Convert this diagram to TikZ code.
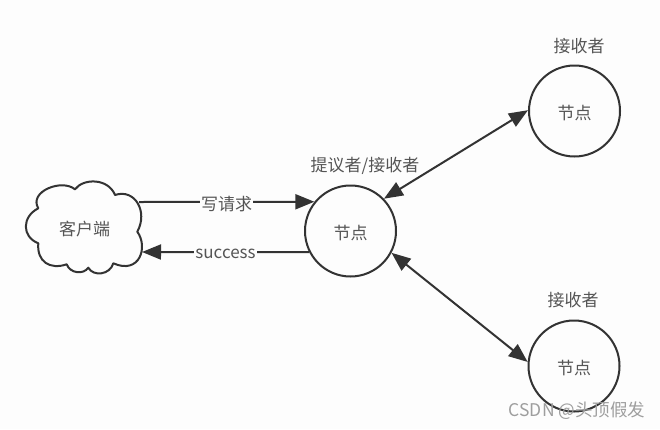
\documentclass[tikz,border=0pt]{standalone}
\usepackage{fontspec}
\setmainfont{Noto Sans CJK SC}
\usetikzlibrary{arrows.meta}
\definecolor{inkdark}{HTML}{333333}
\definecolor{labelgray}{HTML}{555555}
\definecolor{paper}{HTML}{FDFDFD}
\tikzset{
  nodecircle/.style={circle, draw=inkdark, line width=2pt, minimum size=91pt, inner sep=0pt, text height=16pt, text depth=0pt, font=\fontsize{17}{19}\selectfont, text=labelgray},
  clienttext/.style={font=\fontsize{17}{19}\selectfont, text=labelgray, inner sep=0pt},
  rolelabel/.style={font=\fontsize{17}{19}\selectfont, text=labelgray, inner sep=0pt},
  edgelabel/.style={fill=paper, font=\fontsize{17}{19}\selectfont, text=labelgray, inner sep=1pt, yshift=-2pt},
  link/.style={draw=inkdark, line width=2pt}
}
\begin{document}
\begin{tikzpicture}[x=1pt, y=-1pt, >={Triangle[length=19pt,width=15pt]}]

    % --- Page ---
    \fill[paper] (0,0) rectangle (660,429);

    % --- The client cloud ---
    \draw[link, line join=round] (75,189.3)
      .. controls (83.3,178) and (108.3,178) .. (115,195)
      .. controls (135,188.3) and (148.3,211.7) .. (137.3,231.7)
      .. controls (148.3,246.7) and (140,275) .. (113.3,263.3)
      .. controls (110,275) and (93.3,276.7) .. (88.3,267.7)
      .. controls (83.3,275) and (70,273.3) .. (66.7,264.3)
      .. controls (50,270) and (36.7,261.7) .. (38.3,243.3)
      .. controls (21.7,236.7) and (21.7,216.7) .. (38.3,208.3)
      .. controls (28.3,191.7) and (61.7,178.3) .. (75,189.3) -- cycle;
    \node[clienttext] (client) at (84.5,229) {客户端};

    % --- The nodes ---
    \node[nodecircle] (central) at (350.5,231) {节点};
    \node[nodecircle] (upper) at (574.5,111) {节点};
    \node[nodecircle] (lower) at (574,366) {节点};

    % --- Role labels ---
    \node[rolelabel] (centralrole) at (365,165.5) {提议者/接收者};
    \node[rolelabel] (upperrole) at (579,46) {接收者};
    \node[rolelabel] (lowerrole) at (573,300) {接收者};

    % --- Client and central node ---
    \coordinate (requeststart) at (139,202);
    \coordinate (successend) at (142,252);
    \draw[link, ->] (requeststart) -- (central.141) node[edgelabel, pos=0.5] (request) {写请求};
    \draw[link, ->] (central.207) -- (successend) node[edgelabel, pos=0.5] (success) {success};

    % --- Central node and the others ---
    \draw[link, <->] (central.44) -- (upper.179);
    \draw[link, <->] (central.-28) -- (lower.175);

    % Watermark
    \node[font=\fontsize{17.5}{19}\selectfont, text=black!38, inner sep=0pt] (mark) at (577,411) {CSDN @头顶假发};

\end{tikzpicture}
\end{document}
